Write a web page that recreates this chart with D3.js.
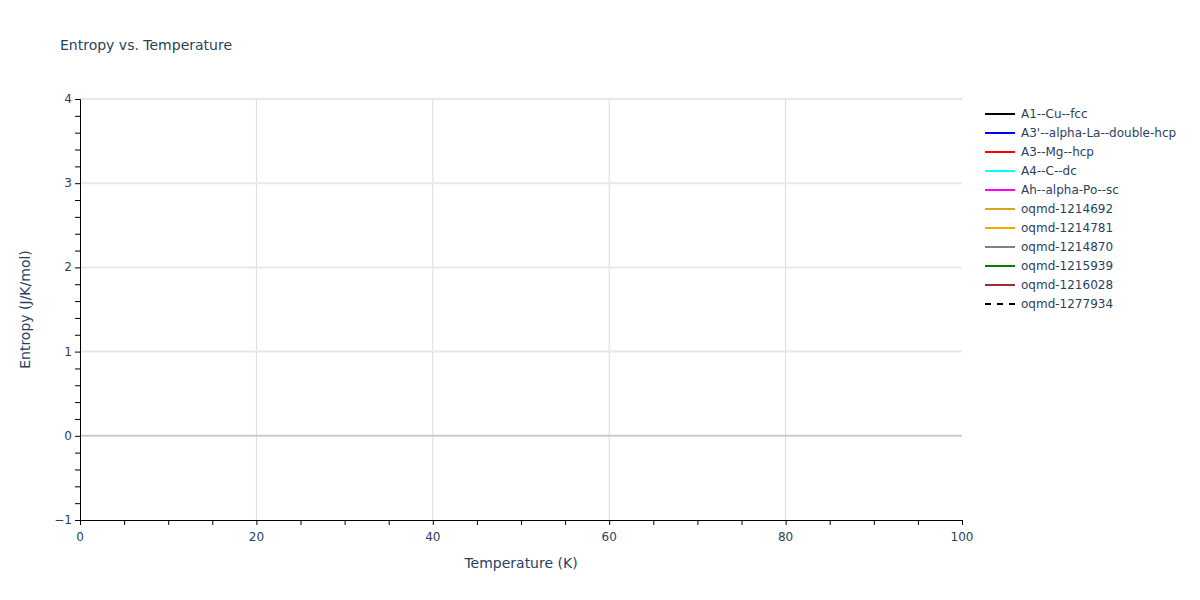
<!DOCTYPE html>
<html>
<head>
<meta charset="utf-8">
<script src="https://cdn.jsdelivr.net/npm/d3@7"></script>
<style>
  body { margin: 0; background: #fff; }
  text { font-family: "DejaVu Sans", verdana, arial, sans-serif; fill: #2a3f5f; }
</style>
</head>
<body>
<div id="chart"></div>
<script>
// series names and colours (no plotted values are visible in the reference)
const seriesNames = ["A1--Cu--fcc", "A3'--alpha-La--double-hcp", "A3--Mg--hcp", "A4--C--dc",
    "Ah--alpha-Po--sc", "oqmd-1214692", "oqmd-1214781", "oqmd-1214870",
    "oqmd-1215939", "oqmd-1216028", "oqmd-1277934"];
const seriesColors = ["black", "blue", "red", "cyan", "magenta", "goldenrod", "orange",
    "gray", "green", "brown", "black"];
const seriesDash = [null, null, null, null, null, null, null, null, null, null, "6,6"];
const temperatures = [];
const entropyValues = seriesNames.map(function () { return []; });

const xTicks = [0, 20, 40, 60, 80, 100];
const yTicks = [-1, 0, 1, 2, 3, 4];

function init() {
    let margin = { top: 99, right: 238, bottom: 80, left: 80 },
        width = 1200 - margin.left - margin.right,
        height = 600 - margin.top - margin.bottom;

    let root = d3.select("#chart").append("svg")
        .attr("width", 1200)
        .attr("height", 600);

    let svg = root.append("g")
        .attr("transform", "translate(" + margin.left + "," + margin.top + ")");

    let x = d3.scaleLinear().domain([0, 100]).range([0, width]);
    let y = d3.scaleLinear().domain([-1, 4]).range([height, 0]);

    // grid
    svg.selectAll(".vgrid")
        .data(xTicks.filter(function (d) { return d > 0 && d < 100; }))
        .join("line")
        .attr("x1", function (d) { return x(d); })
        .attr("x2", function (d) { return x(d); })
        .attr("y1", 0).attr("y2", height)
        .attr("stroke", "#dcdcdc");
    svg.selectAll(".hgrid")
        .data(yTicks.filter(function (d) { return d > -1 && d !== 0; }))
        .join("line")
        .attr("x1", 0).attr("x2", width)
        .attr("y1", function (d) { return y(d); })
        .attr("y2", function (d) { return y(d); })
        .attr("stroke", "#e8e8e8")
        .attr("stroke-width", 2);
    // zero line
    svg.append("line")
        .attr("x1", 0).attr("x2", width)
        .attr("y1", y(0)).attr("y2", y(0))
        .attr("stroke", "#cccccc")
        .attr("stroke-width", 2);

    // data lines
    let line = d3.line()
        .defined(function (d) { return d[1] != null && !isNaN(d[1]); })
        .x(function (d) { return x(d[0]); })
        .y(function (d) { return y(d[1]); });
    seriesNames.forEach(function (name, i) {
        let pts = temperatures.map(function (t, j) { return [t, entropyValues[i][j]]; });
        svg.append("path")
            .datum(pts)
            .attr("fill", "none")
            .attr("stroke", seriesColors[i])
            .attr("stroke-width", 2)
            .attr("stroke-dasharray", seriesDash[i])
            .attr("d", line);
    });

    // axes
    let xAxis = svg.append("g")
        .attr("transform", "translate(0," + height + ")")
        .call(d3.axisBottom(x).tickValues(d3.range(0, 101, 5)).tickSize(5).tickFormat(""));
    xAxis.select(".domain").attr("stroke", "black");
    xAxis.selectAll(".tick line").attr("stroke", "black");
    svg.append("g")
        .attr("transform", "translate(0," + height + ")")
        .selectAll("text")
        .data(xTicks)
        .join("text")
        .attr("x", function (d) { return x(d); })
        .attr("y", 21)
        .attr("text-anchor", "middle")
        .attr("font-size", 12)
        .text(function (d) { return d; });

    let yAxis = svg.append("g")
        .call(d3.axisLeft(y).tickValues(d3.range(-1, 4.01, 0.2)).tickSize(5).tickFormat(""));
    yAxis.select(".domain").attr("stroke", "black");
    yAxis.selectAll(".tick line").attr("stroke", "black");
    svg.append("g")
        .selectAll("text")
        .data(yTicks)
        .join("text")
        .attr("x", -8)
        .attr("y", function (d) { return y(d) + 4; })
        .attr("text-anchor", "end")
        .attr("font-size", 12)
        .text(function (d) { return d < 0 ? "\u2212" + Math.abs(d) : d; });

    // titles
    root.append("text")
        .attr("x", 60).attr("y", 50)
        .attr("font-size", 14)
        .text("Entropy vs. Temperature");
    root.append("text")
        .attr("x", margin.left + width / 2).attr("y", 568)
        .attr("text-anchor", "middle")
        .attr("font-size", 14)
        .text("Temperature (K)");
    root.append("text")
        .attr("transform", "translate(30," + (margin.top + height / 2) + ") rotate(-90)")
        .attr("text-anchor", "middle")
        .attr("font-size", 14)
        .text("Entropy (J/K/mol)");

    // legend
    let legend = root.append("g").attr("transform", "translate(985,114)");
    let items = legend.selectAll("g")
        .data(seriesNames)
        .join("g")
        .attr("transform", function (d, i) { return "translate(0," + (i * 19) + ")"; });
    items.append("line")
        .attr("x1", 0).attr("x2", 30)
        .attr("stroke", function (d, i) { return seriesColors[i]; })
        .attr("stroke-width", 2)
        .attr("stroke-dasharray", function (d, i) { return seriesDash[i]; });
    items.append("text")
        .attr("x", 36).attr("y", 4)
        .attr("font-size", 12)
        .text(function (d) { return d; });
}

window.addEventListener('load', init);
</script>
</body>
</html>
